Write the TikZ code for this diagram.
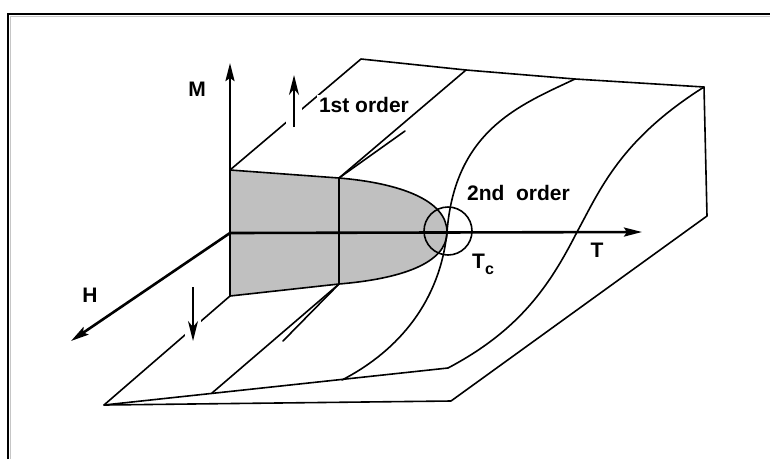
\documentclass[tikz,border=0pt]{standalone}
\usepackage{fontspec}
\setmainfont{Liberation Sans}
\usetikzlibrary{arrows.meta}
\definecolor{shadegray}{RGB}{192,192,192}
\begin{document}
\begin{tikzpicture}[x=1pt,y=-1pt,
  surf/.style={line width=1.6pt, line join=round, line cap=round},
  axisline/.style={line width=2.6pt, -{Stealth[length=18pt,width=9pt,inset=3pt]}},
  boldline/.style={line width=2.6pt},
  lbl/.style={font=\fontsize{21}{25}\selectfont\bfseries, inner sep=0pt},
  halo/.style={white, line width=16pt},
  fieldarrow/.style={line width=1.8pt, -{Stealth[length=20pt,width=10pt,inset=6pt]}}
]
\useasboundingbox (0,0) rectangle (770,459);
% frame
\draw[gray!45, line width=1pt] (10,459) -- (10,16) -- (770,16);
\draw[line width=1.6pt] (8,459) -- (8,14) -- (770,14);

% coordinates
\coordinate (O) at (230,233);
\coordinate (Mtop) at (230,63);
\coordinate (Tend) at (642,232);
\coordinate (Hend) at (71,341);
\coordinate (A) at (230,170);
\coordinate (B) at (339,178);
\coordinate (C) at (339,284);
\coordinate (D) at (230,296);
\coordinate (Tc) at (447,232);
\coordinate (P1) at (361,59);
\coordinate (P2) at (466,70);
\coordinate (P3) at (575,79);
\coordinate (P4) at (704,87);
\coordinate (R1) at (707,216);
\coordinate (R2) at (451,401);
\coordinate (F0) at (104,405);
\coordinate (F1) at (212,393);
\coordinate (F2) at (342,380);
\coordinate (F3) at (448,368);
\coordinate (X) at (577,232);
\coordinate (J1) at (405,131);
\coordinate (J2) at (283,341);

% shaded region
\fill[shadegray] (A) -- (B) .. controls (399,183) and (447,200) .. (Tc)
  .. controls (447,264) and (399,279) .. (C) -- (D) -- cycle;
\draw[surf] (A) -- (B) .. controls (399,183) and (447,200) .. (Tc)
  .. controls (447,264) and (399,279) .. (C) -- (D);

% surface edges
\draw[surf] (A) -- (P1) -- (P2) -- (P3) -- (P4) -- (R1) -- (R2) -- (F0) -- (D);
\draw[surf] (B) -- (P2);
\draw[surf] (C) -- (F1);
\draw[surf] (F0) -- (F3);
\draw[surf] (P3) .. controls (520,105) and (455,130) .. (Tc)
  .. controls (440,300) and (400,350) .. (F2);
\draw[surf] (P4) .. controls (620,140) and (600,190) .. (X)
  .. controls (550,285) and (520,330) .. (F3);
\draw[surf] (B) -- (J1);
\draw[surf] (C) -- (J2);

% field arrows with halo
\coordinate (U0) at (294,127);
\coordinate (U1) at (294,75);
\coordinate (W0) at (193,287);
\coordinate (W1) at (193,341);
\draw[halo] (U0) -- (U1);
\draw[halo] (W0) -- (W1);
\draw[fieldarrow] (U0) -- (U1);
\draw[fieldarrow] (W0) -- (W1);

% axes
\draw[boldline] (B) -- (C);
\draw[axisline] (O) -- (Tend);
\draw[axisline] (D) -- (Mtop);
\draw[axisline] (O) -- (Hend);

% circle at Tc
\draw[surf] (448,231) circle[radius=24pt];

% labels
\node[lbl] (Mlab) at (197,89) {M};
\node[lbl] (Hlab) at (90,295) {H};
\node[lbl] (Tlab) at (597,250) {T};
\node[lbl, anchor=base west] (Tclab) at (472,268) {T\raisebox{-6pt}{\fontsize{16}{16}\selectfont c}};
\node[lbl, fill=white, inner sep=2pt] (first) at (364,104.5) {1st order};
\node[lbl] (second) at (518.5,192.5) {2nd~~order};
\end{tikzpicture}
\end{document}
